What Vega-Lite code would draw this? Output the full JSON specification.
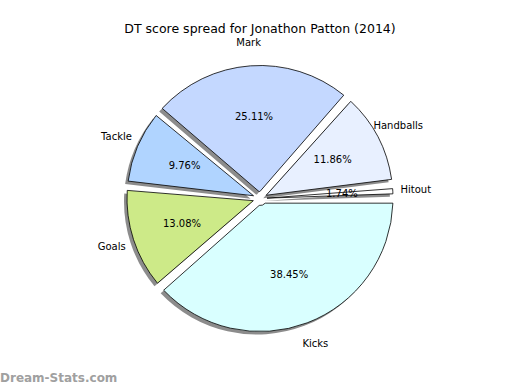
{
  "$schema": "https://vega.github.io/schema/vega-lite/v6.json",
  "width": 520,
  "height": 390,
  "autosize": {"type": "fit", "contains": "padding"},
  "padding": {"top": 22, "left": 0, "right": 0, "bottom": 0},
  "background": "white",
  "title": {"text": "DT score spread for Jonathon Patton (2014)", "font": "DejaVu Sans", "fontSize": 12.5, "fontWeight": "normal", "color": "#000000", "offset": 4, "dy": 16},
  "view": {"stroke": null},
  "data": {"values": [
    {"category": "Hitout", "value": 1.74, "pct": "1.74%", "order": 1, "fill": "#ffffff"},
    {"category": "Handballs", "value": 11.86, "pct": "11.86%", "order": 2, "fill": "#e8f0ff"},
    {"category": "Mark", "value": 25.11, "pct": "25.11%", "order": 3, "fill": "#c4d8ff"},
    {"category": "Tackle", "value": 9.76, "pct": "9.76%", "order": 4, "fill": "#b0d4ff"},
    {"category": "Goals", "value": 13.08, "pct": "13.08%", "order": 5, "fill": "#cdea88"},
    {"category": "Kicks", "value": 38.45, "pct": "38.45%", "order": 6, "fill": "#d9ffff"}
  ]},
  "layer": [
    {
      "mark": {"type": "arc", "innerRadius": 7, "outerRadius": 133, "padAngle": 0.07, "color": "#8c8c8c", "xOffset": -3, "yOffset": 3, "y": {"expr": "height/2 - 8"}},
      "encoding": {
        "theta": {"field": "value", "type": "quantitative", "stack": true, "scale": {"range": [1.5708, -4.7124]}},
        "order": {"field": "order", "type": "quantitative"}
      }
    },
    {
      "mark": {"type": "arc", "innerRadius": 7, "outerRadius": 133, "padAngle": 0.07, "stroke": "#000000", "strokeWidth": 0.8, "y": {"expr": "height/2 - 8"}},
      "encoding": {
        "theta": {"field": "value", "type": "quantitative", "stack": true},
        "order": {"field": "order", "type": "quantitative"},
        "fill": {"field": "fill", "type": "nominal", "scale": null}
      }
    },
    {
      "mark": {"type": "text", "radius": 82, "font": "DejaVu Sans", "fontSize": 10, "color": "#000000", "y": {"expr": "height/2 - 8"}},
      "encoding": {
        "theta": {"field": "value", "type": "quantitative", "stack": true},
        "order": {"field": "order", "type": "quantitative"},
        "text": {"field": "pct", "type": "nominal"}
      }
    },
    {
      "mark": {"type": "text", "radius": 156, "font": "DejaVu Sans", "fontSize": 10, "color": "#000000", "y": {"expr": "height/2 - 8"}},
      "encoding": {
        "theta": {"field": "value", "type": "quantitative", "stack": true},
        "order": {"field": "order", "type": "quantitative"},
        "text": {"field": "category", "type": "nominal"}
      }
    },
    {
      "data": {"values": [{"w": "Dream-Stats.com"}]},
      "mark": {"type": "text", "align": "left", "baseline": "middle", "font": "DejaVu Sans", "fontSize": 12, "fontWeight": "bold", "color": "#a0a0a0", "x": 0, "y": {"expr": "height - 12"}},
      "encoding": {"text": {"field": "w", "type": "nominal"}}
    }
  ]
}
